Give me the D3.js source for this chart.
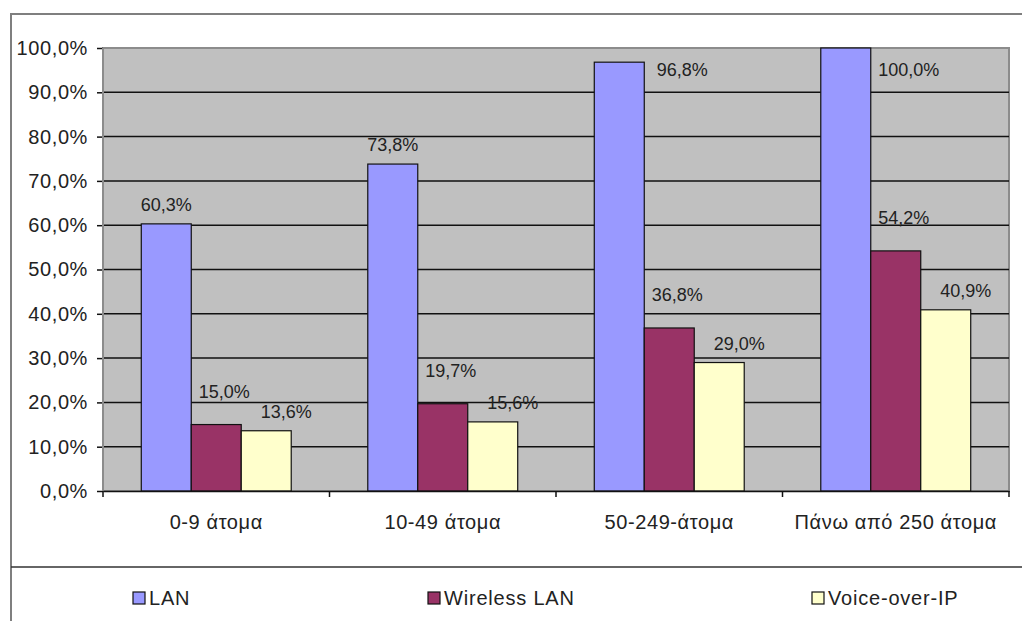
<!DOCTYPE html>
<html>
<head>
<meta charset="utf-8">
<script src="https://cdn.jsdelivr.net/npm/d3@7"></script>
<style>
  body { margin: 0; background: #fff; }
  svg { display: block; font-family: "Liberation Sans", Arial, sans-serif; }
</style>
</head>
<body>
<svg id="chart" width="1022" height="621"></svg>
<script>
const categories = ['0-9 άτομα', '10-49 άτομα', '50-249-άτομα', 'Πάνω από 250 άτομα']
const seriesNames = ['LAN', 'Wireless LAN', 'Voice-over-IP']
const lanValues = [60.3, 73.8, 96.8, 100.0]
const wlanValues = [15.0, 19.7, 36.8, 54.2]
const voipValues = [13.6, 15.6, 29.0, 40.9]
const yTicks = [0, 10, 20, 30, 40, 50, 60, 70, 80, 90, 100]

const colors = ['#9999ff', '#993366', '#ffffcc']
// label offsets per series, Excel put them a bit off the bar tops
const labelOffset = [{dx: 0, dy: -20}, {dx: 8, dy: -34}, {dx: 20, dy: -20}]

const svg = d3.select('#chart')
const plot = {left: 103, right: 1009, top: 48, bottom: 491}
const fmt = v => v.toFixed(1).replace('.', ',') + '%'

const data = categories.map((c, i) => ({
    cat: c,
    vals: [lanValues[i], wlanValues[i], voipValues[i]]
}))

//outer frame
svg.append('line').attr('x1', 11).attr('x2', 1022).attr('y1', 14).attr('y2', 14)
   .style('stroke', '#7f7f7f').style('stroke-width', 2)
svg.append('line').attr('x1', 11).attr('x2', 11).attr('y1', 13).attr('y2', 621)
   .style('stroke', '#7f7f7f').style('stroke-width', 2)

//scales
const x0 = d3.scaleBand().domain(categories).range([plot.left, plot.right])
             .paddingInner(0.338).paddingOuter(0.169)
const xCat = d3.scaleBand().domain(categories).range([plot.left, plot.right])
const x1 = d3.scaleBand().domain(d3.range(3)).range([0, x0.bandwidth()])
const y = d3.scaleLinear().domain([0, 100]).range([plot.bottom, plot.top])

//plot background
svg.append('rect').attr('x', plot.left).attr('y', plot.top)
   .attr('width', plot.right - plot.left).attr('height', plot.bottom - plot.top)
   .style('fill', '#c0c0c0').style('stroke', '#8c8c8c').style('stroke-width', 2)

//grid
svg.append('g').selectAll('line')
   .data(yTicks.filter(t => t > 0 && t < 100))
   .join('line')
   .attr('x1', plot.left).attr('x2', plot.right)
   .attr('y1', d => y(d)).attr('y2', d => y(d))
   .style('stroke', '#111').style('stroke-width', 1.5)

//bars
const groups = svg.append('g').selectAll('g')
   .data(data)
   .join('g')
   .attr('transform', d => `translate(${x0(d.cat)},0)`)

groups.selectAll('rect')
   .data(d => d.vals.map((v, k) => ({v, k})))
   .join('rect')
   .attr('x', d => x1(d.k))
   .attr('y', d => y(d.v))
   .attr('width', x1.bandwidth())
   .attr('height', d => y(0) - y(d.v))
   .style('fill', d => colors[d.k])
   .style('stroke', '#111')
   .style('stroke-width', 1.2)

//value labels
groups.selectAll('text')
   .data(d => d.vals.map((v, k) => ({v, k})))
   .join('text')
   .attr('x', d => {
       const cx = x1(d.k) + x1.bandwidth() / 2
       if (y(d.v) - 30 < plot.top) return x1(d.k) + x1.bandwidth() + 38
       return cx + labelOffset[d.k].dx
   })
   .attr('y', d => {
       if (y(d.v) - 30 < plot.top) return Math.max(y(d.v) + 5, plot.top + 21) + 7
       return y(d.v) + labelOffset[d.k].dy + 7
   })
   .attr('text-anchor', 'middle')
   .style('font-size', '18px')
   .style('fill', '#222')
   .text(d => fmt(d.v))

//axes
const yAxis = svg.append('g')
   .attr('transform', `translate(${plot.left},0)`)
   .call(d3.axisLeft(y).tickValues(yTicks).tickFormat(d => d.toFixed(1).replace('.', ',') + '%')
         .tickSize(6).tickPadding(9))
yAxis.select('.domain').remove()
yAxis.selectAll('line').style('stroke', '#111').style('stroke-width', 1.5)
yAxis.selectAll('text').style('font-size', '20px').style('letter-spacing', '0.6px')
     .style('fill', '#222').attr('font-family', null)
svg.append('line').attr('x1', plot.left).attr('x2', plot.left)
   .attr('y1', plot.top).attr('y2', plot.bottom)
   .style('stroke', '#8c8c8c').style('stroke-width', 2)

const xAxis = svg.append('g')
   .attr('transform', `translate(0,${plot.bottom})`)
   .call(d3.axisBottom(xCat).tickSize(0).tickPadding(24))
xAxis.select('.domain').style('stroke', '#111').style('stroke-width', 1.5)
xAxis.selectAll('text').style('font-size', '20px').style('letter-spacing', '0.6px')
     .style('fill', '#222').attr('font-family', null)
//category separators
svg.append('g').selectAll('line')
   .data(categories.concat(['end']))
   .join('line')
   .attr('x1', (d, i) => i < categories.length ? xCat(d) : plot.right)
   .attr('x2', (d, i) => i < categories.length ? xCat(d) : plot.right)
   .attr('y1', plot.bottom).attr('y2', plot.bottom + 6)
   .style('stroke', '#111').style('stroke-width', 1.5)

//legend
svg.append('line').attr('x1', 11).attr('x2', 1022).attr('y1', 567).attr('y2', 567)
   .style('stroke', '#333').style('stroke-width', 1.5)
const legendX = [133, 428, 812]
const legend = svg.append('g').selectAll('g')
   .data(seriesNames)
   .join('g')
   .attr('transform', (d, i) => `translate(${legendX[i]},592)`)
legend.append('rect').attr('width', 12).attr('height', 12)
   .style('fill', (d, i) => colors[i]).style('stroke', '#111').style('stroke-width', 1.2)
legend.append('text').attr('x', 16).attr('y', 13)
   .style('font-size', '20px').style('letter-spacing', '0.8px').style('fill', '#222')
   .text(d => d)
</script>
</body>
</html>
